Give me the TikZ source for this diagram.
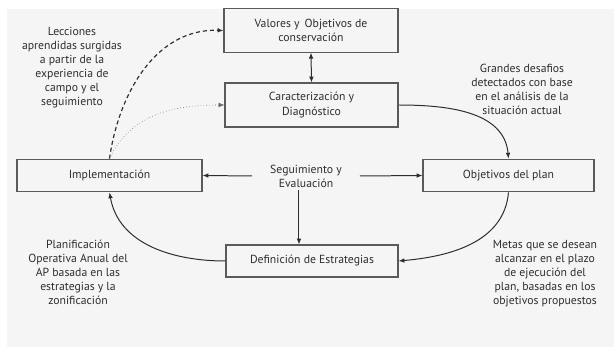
\documentclass[tikz,border=0pt]{standalone}
\usepackage{fontspec}
\setmainfont{PT Sans}
\usetikzlibrary{arrows.meta}
\definecolor{inkgray}{HTML}{2E2E2E}
\definecolor{boxgray}{HTML}{5A5A5A}
\definecolor{paper}{HTML}{F5F5F5}
\tikzset{
  stage/.style={
    rectangle, draw=boxgray, line width=0.9pt, fill=paper, minimum width=5.2cm, minimum height=0.98cm,
    align=center, font=\fontsize{10}{12}\selectfont, text=inkgray, inner sep=2pt
  },
  tallstage/.style={stage, minimum height=1.3cm},
  note/.style={align=center, font=\fontsize{10}{11.9}\selectfont, text=inkgray, inner sep=0pt},
  edge/.style={-{Latex[length=5pt,width=4pt]}, line width=0.85pt, draw=inkgray},
  twoway/.style={edge, {Latex[length=5pt,width=4pt]}-{Latex[length=5pt,width=4pt]}},
  feedback/.style={edge, line width=1pt, dash pattern=on 3.5pt off 2.5pt},
  faint/.style={edge, line width=0.5pt, draw=inkgray!70, dotted}
}

\begin{document}
\begin{tikzpicture}[x=0.03cm, y=-0.03cm]
    \useasboundingbox (0,0) rectangle (614,347);
    \fill[paper] (7,9) rectangle (614,347);
    % boxes
    \node[tallstage, minimum width=5.22cm] (val) at (311,30.5) {Valores y\, Objetivos de\\conservación};
    \node[tallstage, minimum width=5.19cm, minimum height=1.32cm] (car) at (311.5,105) {Caracterización y\\Diagnóstico};
    \node[stage, minimum width=5.55cm] (imp) at (109.5,175.5) {Implementación};
    \node[stage, minimum width=5.13cm] (obj) at (508.5,175.5) {Objetivos del plan};
    \node[stage, minimum width=5.16cm, minimum height=0.96cm] (def) at (312,261) {Definición de Estrategias};
    \node[stage, draw=none, fill=none, minimum width=3.2cm, minimum height=0.6cm] (seg) at (306,176) {Seguimiento y\\Evaluación};
    % notes
    \node[note] (lec) at (72,67.5) {Lecciones\\aprendidas surgidas\\a partir de la\\experiencia de\\campo y el\\seguimiento};
    \node[note] (gra) at (522,89) {Grandes desafios\\detectados con base\\en el análisis de la\\situación actual};
    \node[note] (pla) at (78,272.5) {Planificación\\Operativa Anual del\\AP basada en las\\estrategias y la\\zonificación};
    \node[note] (met) at (545,274) {Metas que se desean\\alcanzar en el plazo\\de ejecución del\\plan, basadas en los\\objetivos propuestos};
    % connectors
    \draw[twoway] (val.south) -- (car.north);
    \draw[edge] (seg.west) -- (imp.east);
    \draw[edge] (seg.east) -- (obj.west);
    \draw[edge] ([xshift=-6]seg.south) -- ([xshift=-6]seg.south |- def.north);
    \draw[edge] (car.east) to[out=0, in=95] (obj.north);
    \draw[edge] (obj.south) to[out=-95, in=5] (def.east);
    \draw[edge] (def.west) to[out=180, in=-80] (imp.south);
    \draw[feedback] (imp.north) to[out=82, in=178] (val.west);
    \draw[faint] (imp.north) to[out=65, in=180] (car.west);
\end{tikzpicture}
\end{document}
